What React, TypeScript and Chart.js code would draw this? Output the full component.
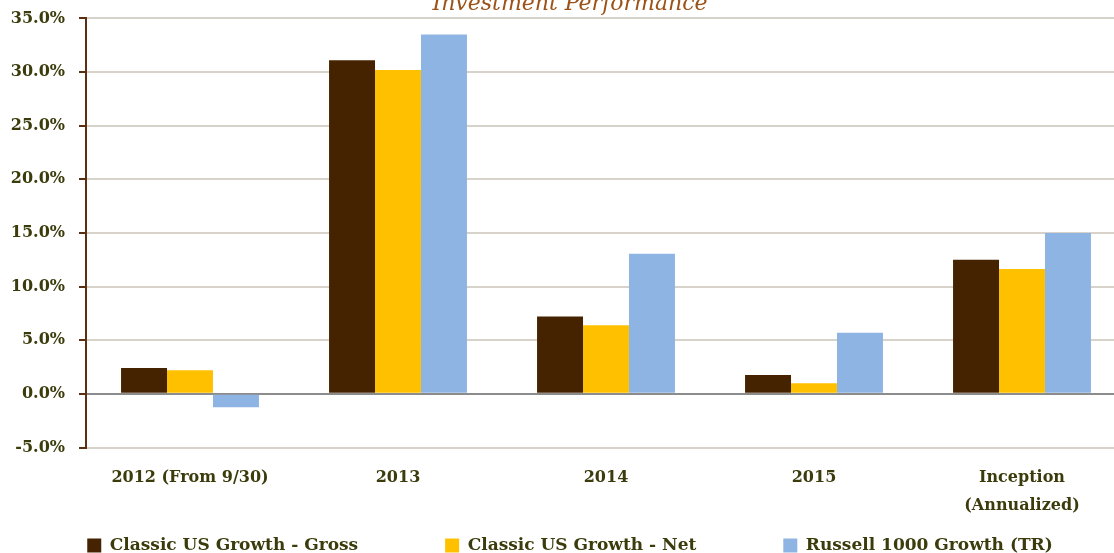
import React, { useEffect, useRef } from "react";
import { Chart, registerables } from "chart.js";

Chart.register(...registerables);

const categories: (string | string[])[] = [
  "2012 (From 9/30)",
  "2013",
  "2014",
  "2015",
  ["Inception", "(Annualized)"],
];
const seriesNames = [
  "Classic US Growth - Gross",
  "Classic US Growth - Net",
  "Russell 1000 Growth (TR)",
];
const grossValues = [2.4, 31.1, 7.2, 1.75, 12.5];
const netValues = [2.2, 30.2, 6.4, 1.0, 11.65];
const russellValues = [-1.25, 33.5, 13.05, 5.7, 15.0];
const seriesColors = ["#452300", "#FFC000", "#8EB4E3"];
const yTicks = [-5, 0, 5, 10, 15, 20, 25, 30, 35];
const titleText = "Investment Performance";

const TEXT = "#3b3b0c";
const FONT = "'DejaVu Serif', serif";

export default function App() {
  const ref = useRef<HTMLCanvasElement | null>(null);
  useEffect(() => {
    if (!ref.current) return;
    const chart = new Chart(ref.current, {
      type: "bar",
      data: {
        labels: categories,
        datasets: [grossValues, netValues, russellValues].map((d, i) => ({
          label: seriesNames[i],
          data: d,
          backgroundColor: seriesColors[i],
          borderWidth: 0,
          categoryPercentage: 0.663,
          barPercentage: 1,
          yAxisID: "y",
        })),
      },
      options: {
        animation: false,
        responsive: false,
        maintainAspectRatio: false,
        layout: { padding: 0 },
        plugins: {
          title: {
            display: true,
            text: titleText,
            color: "#9c5218",
            font: { family: FONT, size: 22, style: "italic", weight: "normal", lineHeight: 1.2 },
            padding: { top: 0, bottom: 1 },
          },
          legend: {
            position: "bottom",
            labels: {
              color: TEXT,
              font: { family: FONT, size: 17, weight: "bold" },
              boxWidth: 14,
              boxHeight: 14,
              padding: 87,
            },
          },
          tooltip: { enabled: false },
        },
        scales: {
          x: {
            grid: { display: false },
            border: { display: false },
            ticks: {
              color: TEXT,
              font: { family: FONT, size: 16, weight: "bold", lineHeight: 1.72 },
              padding: 9,
              maxRotation: 0,
              autoSkip: false,
            },
            afterFit: (s: any) => {
              s.height = 2.5;
              s.paddingTop = 0;
              s.paddingBottom = 0;
              s._computeLabelArea = () => undefined;
            },
          },
          y: {
            min: -5,
            max: 35,
            afterFit: (s: any) => {
              s.width = 86;
              s.paddingTop = 0;
              s.paddingBottom = 0;
            },
            afterBuildTicks: (s: any) => {
              s.ticks = yTicks.map((v) => ({ value: v }));
            },
            border: { display: true, color: "#5a3010", width: 2 },
            grid: {
              color: (c: any) => (c.tick && c.tick.value === 0 ? "#8c8c8c" : "#d8d3ca"),
              lineWidth: 2,
              tickColor: "#5a3010",
              tickLength: 7,
              drawTicks: true,
            },
            ticks: {
              color: TEXT,
              font: { family: FONT, size: 16, weight: "bold" },
              padding: 14,
              callback: (v: any) => Number(v).toFixed(1) + "%",
            },
          },
          yR: {
            position: "right",
            display: true,
            grid: { display: false },
            border: { display: false },
            ticks: { display: false },
            afterFit: (s: any) => {
              s.width = 14;
              s.paddingTop = 0;
              s.paddingBottom = 0;
            },
          },
        },
      },
    });
    return () => chart.destroy();
  }, []);
  return (
    <div
      style={{
        position: "fixed",
        left: 0,
        top: 0,
        width: 1114,
        height: 553,
        overflow: "hidden",
        background: "#fff",
      }}
    >
      <canvas
        ref={ref}
        width={1140}
        height={573}
        style={{ display: "block", position: "absolute", left: 0, top: -9 }}
      />
    </div>
  );
}
